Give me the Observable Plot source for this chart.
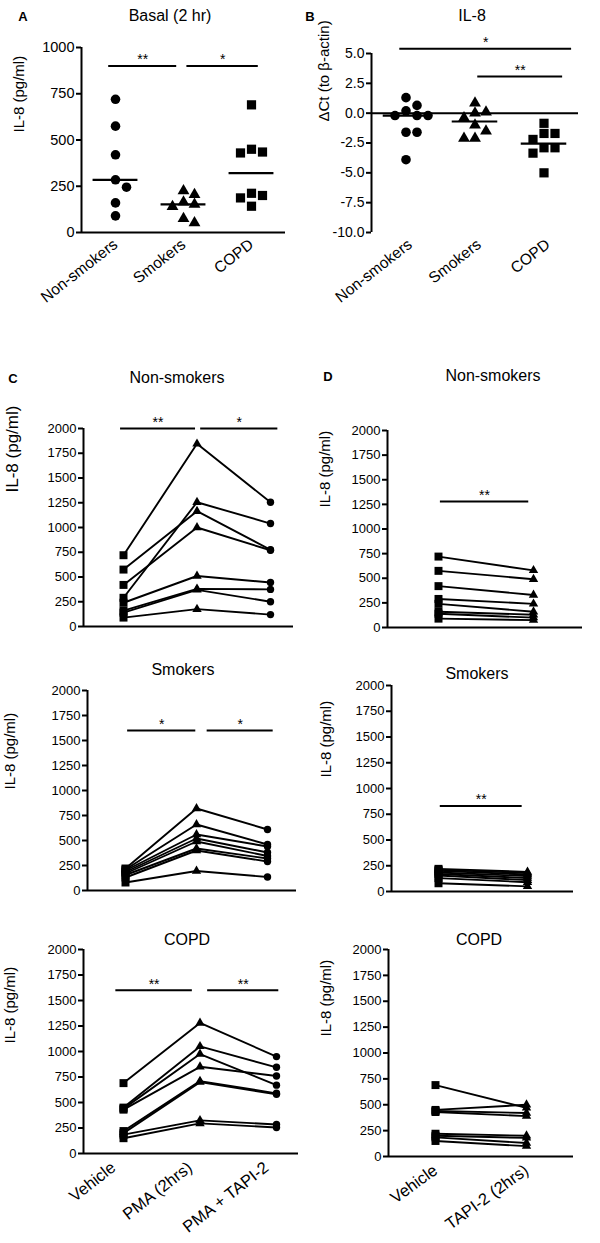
<!DOCTYPE html>
<html><head><meta charset="utf-8">
<script src="https://cdn.jsdelivr.net/npm/d3@7"></script>
<script src="https://cdn.jsdelivr.net/npm/@observablehq/plot@0.6"></script>
<style>
body{margin:0;background:#fff;}
#fig{position:relative;width:600px;height:1243px;overflow:hidden;background:#fff;font-family:"Liberation Sans",Arial,sans-serif;color:#000;}
.panel{position:absolute;}
.lbl{position:absolute;white-space:nowrap;line-height:1;transform:translate(-50%,-50%);}
.title{font-size:16px;}
.letter{font-size:13px;font-weight:bold;}
</style></head><body><div id="fig"></div>
<script>
// ---------- categories & tick labels ----------
const groups = ["Non-smokers", "Smokers", "COPD"];
const conditionsC = ["Vehicle", "PMA (2hrs)", "PMA + TAPI-2"];
const conditionsD = ["Vehicle", "TAPI-2 (2hrs)"];
const ticksBasal = [0, 250, 500, 750, 1000];
const ticksDCt = [5, 2.5, 0, -2.5, -5, -7.5, -10];
const ticksIL8 = [0, 250, 500, 750, 1000, 1250, 1500, 1750, 2000];

// ---------- Panel A: basal IL-8 (pg/ml) ----------
const basalNonSmokers = [720, 575, 420, 285, 245, 160, 90];
const basalSmokers = [225, 205, 165, 152, 140, 75, 52];
const basalCOPD = [690, 450, 435, 430, 212, 200, 187, 142];

// ---------- Panel B: IL-8 dCt (to beta-actin) ----------
const dctNonSmokers = [1.3, 0.65, 0.2, -0.2, -0.2, -0.2, -1.6, -1.6, -3.9];
const dctSmokers = [0.85, 0.1, 0.0, -0.4, -1.0, -1.5, -2.1, -2.1];
const dctCOPD = [-0.85, -1.7, -1.7, -2.2, -2.9, -2.9, -3.35, -5.0];

// ---------- Panels C & D: IL-8 (pg/ml) per subject ----------
const nsVehicle   = [720, 575, 420, 290, 240, 160, 140, 90];
const nsPMA       = [1845, 1165, 1000, 1255, 510, 380, 370, 175];
const nsPMATAPI   = [1255, 775, 770, 1040, 445, 375, 250, 120];
const nsTAPI      = [580, 490, 330, 240, 160, 130, 100, 75];

const smVehicle   = [220, 210, 200, 185, 170, 155, 130, 80];
const smPMA       = [820, 660, 560, 520, 490, 420, 400, 195];
const smPMATAPI   = [610, 460, 440, 380, 345, 320, 290, 135];
const smTAPI      = [190, 180, 165, 150, 130, 110, 90, 50];

const copdVehicle = [690, 450, 440, 430, 220, 200, 185, 150];
const copdPMA     = [1280, 1050, 975, 850, 710, 700, 325, 295];
const copdPMATAPI = [950, 845, 670, 760, 590, 580, 285, 255];
const copdTAPI    = [470, 500, 420, 390, 200, 180, 130, 100];

// ---------- significance annotations (category units) ----------
const sigA  = [{from: -0.1, to: 0.9, y: 900, label: "**"}, {from: 1.05, to: 2.1, y: 900, label: "*"}];
const sigB  = [{from: -0.09, to: 2.4, y: 5.4, label: "*"}, {from: 1.04, to: 2.27, y: 3.07, label: "**"}];
const sigC1 = [{from: -0.04, to: 0.98, y: 2000, label: "**"}, {from: 1.05, to: 2.1, y: 2000, label: "*"}];
const sigC2 = [{from: 0.03, to: 0.99, y: 1600, label: "*"}, {from: 1.15, to: 2.08, y: 1600, label: "*"}];
const sigC3 = [{from: -0.1, to: 0.9, y: 1600, label: "**"}, {from: 1.1, to: 2.03, y: 1600, label: "**"}];
const sigD1 = [{from: 0.02, to: 0.95, y: 1280, label: "**"}];
const sigD2 = [{from: 0.02, to: 0.94, y: 830, label: "**"}];
const sigD3 = [];

const FONT = '"Liberation Sans", Arial, sans-serif';
const fig = document.getElementById("fig");

function addLabel(text, x, y, cls) {
  const d = document.createElement("div");
  d.className = "lbl " + cls;
  d.textContent = text;
  d.style.left = x + "px";
  d.style.top = y + "px";
  fig.appendChild(d);
}

// GraphPad-like column scatter arrangement: offsets (in px) for overlapping points
function arrange(values, pxPerUnit, minGap, spacing) {
  const pts = values.map(v => ({v})).sort((a, b) => b.v - a.v);
  const placed = [];
  for (const p of pts) {
    for (const k of [0, 1, -1, 2, -2, 3, -3]) {
      const ox = k * spacing;
      if (placed.every(q => Math.hypot(q.ox - ox, (q.v - p.v) * pxPerUnit) >= minGap)) { p.ox = ox; break; }
    }
    placed.push(p);
  }
  return pts;
}

function geometry(cfg) {
  const step = cfg.c1 - cfg.c0;
  return {
    marginLeft: cfg.axisX - cfg.left,
    marginRight: cfg.left + cfg.width - cfg.xEnd,
    marginTop: cfg.yTop - cfg.top,
    marginBottom: cfg.top + cfg.height - cfg.yBot,
    step,
    xDomain: [(cfg.axisX - cfg.c0) / step, (cfg.xEnd - cfg.c0) / step]
  };
}

function mount(svg, cfg) {
  svg.classList.add("panel");
  svg.style.left = cfg.left + "px";
  svg.style.top = cfg.top + "px";
  fig.appendChild(svg);
}

function commonMarks(cfg, g) {
  const marks = [
    Plot.ruleX([g.xDomain[0]], {strokeWidth: 2}),
    Plot.ruleY([cfg.baseline], {strokeWidth: 2}),
    Plot.axisY({ticks: cfg.ticks, tickSize: 5, tickPadding: 2, strokeWidth: 2, fontSize: cfg.tickFont,
      tickFormat: cfg.tickFormat, label: null}),
    Plot.text([cfg.ylabel], {text: d => d, frameAnchor: "left", rotate: -90, fontSize: cfg.ylabelSize || 15,
      dx: cfg.ylabelX - cfg.axisX, dy: cfg.ylabelY - (cfg.yTop + cfg.yBot) / 2}),
    Plot.ruleY(cfg.sig, {y: "y", x1: "from", x2: "to", strokeWidth: 2}),
    Plot.text(cfg.sig, {x: d => (d.from + d.to) / 2, y: "y", text: "label", dy: -6, fontSize: 14})
  ];
  if (cfg.xlabels) {
    marks.push(Plot.axisX({ticks: d3.range(cfg.xlabels.length), tickFormat: i => cfg.xlabels[i], tickSize: 0,
      tickPadding: cfg.xPad || 10, tickRotate: cfg.xRotate || -38, fontSize: cfg.xFont || 15.5,
      dx: cfg.xDx || 0, label: null}));
  }
  return marks;
}

function plotStyle(cfg) {
  return {fontFamily: FONT, fontSize: cfg.tickFont + "px", color: "black", background: "transparent", overflow: "visible"};
}

function scatterPanel(cfg) {
  const g = geometry(cfg);
  const innerH = cfg.yBot - cfg.yTop;
  const pxPerUnit = innerH / (cfg.yDomain[1] - cfg.yDomain[0]);
  const symbols = ["circle", "triangle", "square"];
  const radii = [4.8, 4.4, 5.2];
  const marks = commonMarks(cfg, g);
  cfg.values.forEach((vals, gi) => {
    const pts = arrange(vals, pxPerUnit, 9, 11).map(p => ({x: gi + p.ox / g.step, y: p.v}));
    marks.push(Plot.dot(pts, {x: "x", y: "y", symbol: symbols[gi], r: radii[gi], fill: "black", stroke: "none"}));
  });
  const med = cfg.values.map((vals, gi) => ({gi, m: d3.median(vals)}));
  marks.push(Plot.ruleY(med, {y: "m", x1: d => d.gi - 0.33, x2: d => d.gi + 0.33, strokeWidth: 2.2}));
  const svg = Plot.plot({
    width: cfg.width, height: cfg.height,
    marginLeft: g.marginLeft, marginRight: g.marginRight, marginTop: g.marginTop, marginBottom: g.marginBottom,
    x: {type: "linear", domain: g.xDomain},
    y: {domain: cfg.yDomain},
    style: plotStyle(cfg),
    marks
  });
  mount(svg, cfg);
}

function pairedPanel(cfg) {
  const g = geometry(cfg);
  const symbols = ["square", "triangle", "circle"];
  const radii = [4.5, 3.5, 3.7];
  const rows = cfg.series.flatMap((vals, ci) => vals.map((v, si) => ({subject: si, ci, v})));
  const marks = commonMarks(cfg, g);
  marks.push(Plot.line(rows, {x: "ci", y: "v", z: "subject", stroke: "black", strokeWidth: 1.9}));
  cfg.series.forEach((vals, ci) => {
    marks.push(Plot.dot(rows.filter(d => d.ci === ci), {x: "ci", y: "v", symbol: symbols[ci], r: radii[ci], fill: "black", stroke: "none"}));
  });
  const svg = Plot.plot({
    width: cfg.width, height: cfg.height,
    marginLeft: g.marginLeft, marginRight: g.marginRight, marginTop: g.marginTop, marginBottom: g.marginBottom,
    x: {type: "linear", domain: g.xDomain, axis: cfg.xlabels ? undefined : null},
    y: {domain: [0, 2000]},
    style: plotStyle(cfg),
    marks
  });
  mount(svg, cfg);
}

const il8Fmt = d => String(d);

// Panel A
scatterPanel({left: 0, top: 0, width: 300, height: 320, axisX: 81, xEnd: 285, c0: 115, c1: 183, yTop: 47, yBot: 232,
  yDomain: [0, 1000], baseline: 0, ticks: ticksBasal, tickFormat: il8Fmt, tickFont: 14.5,
  ylabel: "IL-8 (pg/ml)", ylabelX: 19, ylabelY: 132, ylabelSize: 15,
  values: [basalNonSmokers, basalSmokers, basalCOPD], sig: sigA, xlabels: groups, xFont: 15.5});
addLabel("A", 23, 16, "letter");
addLabel("Basal (2 hr)", 170, 16, "title");

// Panel B
scatterPanel({left: 300, top: 0, width: 300, height: 320, axisX: 371, xEnd: 578, c0: 405.5, c1: 474.5, yTop: 53, yBot: 232,
  yDomain: [-10, 5], baseline: 0, ticks: ticksDCt, tickFormat: d => d.toFixed(1), tickFont: 14,
  ylabel: "\u0394Ct (to \u03b2-actin)", ylabelX: 324, ylabelY: 121, ylabelSize: 15,
  values: [dctNonSmokers, dctSmokers, dctCOPD], sig: sigB, xlabels: groups, xFont: 15.5, xDx: 4});
addLabel("B", 310, 16, "letter");
addLabel("IL-8", 472, 16, "title");

// Panel C
pairedPanel({left: 0, top: 360, width: 300, height: 280, axisX: 83, xEnd: 293, c0: 123, c1: 196.5, yTop: 428, yBot: 626,
  baseline: 0, ticks: ticksIL8, tickFormat: il8Fmt, tickFont: 13,
  ylabel: "IL-8 (pg/ml)", ylabelX: 12, ylabelY: 492, ylabelSize: 17,
  series: [nsVehicle, nsPMA, nsPMATAPI], sig: sigC1});
addLabel("C", 13, 378, "letter");
addLabel("Non-smokers", 177, 378, "title");

pairedPanel({left: 0, top: 640, width: 300, height: 260, axisX: 87, xEnd: 296, c0: 125, c1: 196, yTop: 690, yBot: 890,
  baseline: 0, ticks: ticksIL8, tickFormat: il8Fmt, tickFont: 13,
  ylabel: "IL-8 (pg/ml)", ylabelX: 10, ylabelY: 789,
  series: [smVehicle, smPMA, smPMATAPI], sig: sigC2});
addLabel("Smokers", 183, 670, "title");

pairedPanel({left: 0, top: 900, width: 300, height: 343, axisX: 83, xEnd: 298, c0: 123, c1: 199.5, yTop: 949, yBot: 1153,
  baseline: 0, ticks: ticksIL8, tickFormat: il8Fmt, tickFont: 13,
  ylabel: "IL-8 (pg/ml)", ylabelX: 10, ylabelY: 1043,
  series: [copdVehicle, copdPMA, copdPMATAPI], sig: sigC3, xlabels: conditionsC, xFont: 16.5, xDx: -10, xPad: 12});
addLabel("COPD", 187, 940, "title");

// Panel D
pairedPanel({left: 300, top: 360, width: 300, height: 280, axisX: 387, xEnd: 582, c0: 438, c1: 533, yTop: 430, yBot: 627,
  baseline: 0, ticks: ticksIL8, tickFormat: il8Fmt, tickFont: 13,
  ylabel: "IL-8 (pg/ml)", ylabelX: 325, ylabelY: 507,
  series: [nsVehicle, nsTAPI], sig: sigD1});
addLabel("D", 328, 376, "letter");
addLabel("Non-smokers", 493, 376, "title");

pairedPanel({left: 300, top: 640, width: 300, height: 260, axisX: 391, xEnd: 573, c0: 438, c1: 527, yTop: 685, yBot: 891,
  baseline: 0, ticks: ticksIL8, tickFormat: il8Fmt, tickFont: 13,
  ylabel: "IL-8 (pg/ml)", ylabelX: 326, ylabelY: 777,
  series: [smVehicle, smTAPI], sig: sigD2});
addLabel("Smokers", 477, 674, "title");

pairedPanel({left: 300, top: 900, width: 300, height: 343, axisX: 388, xEnd: 573, c0: 435, c1: 526, yTop: 949, yBot: 1156,
  baseline: 0, ticks: ticksIL8, tickFormat: il8Fmt, tickFont: 13,
  ylabel: "IL-8 (pg/ml)", ylabelX: 326, ylabelY: 1036,
  series: [copdVehicle, copdTAPI], sig: sigD3, xlabels: conditionsD, xFont: 16.5, xRotate: -36, xPad: 12});
addLabel("COPD", 479, 940, "title");
</script></body></html>
